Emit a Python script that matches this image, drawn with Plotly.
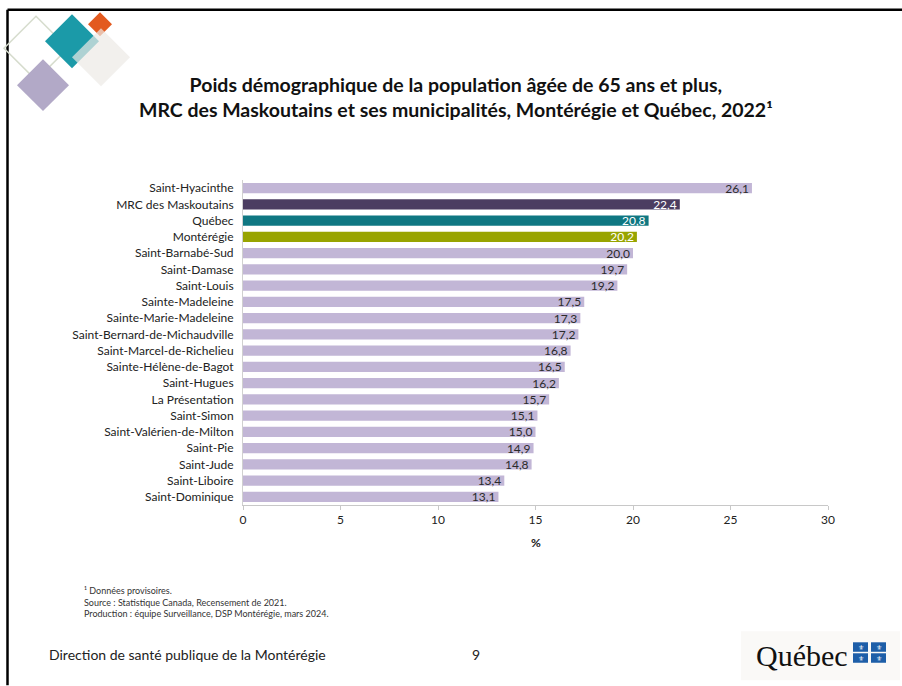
import plotly.graph_objects as go

categories = ["Saint-Hyacinthe", "MRC des Maskoutains", "Québec", "Montérégie",
              "Saint-Barnabé-Sud", "Saint-Damase", "Saint-Louis", "Sainte-Madeleine",
              "Sainte-Marie-Madeleine", "Saint-Bernard-de-Michaudville",
              "Saint-Marcel-de-Richelieu", "Sainte-Hélène-de-Bagot", "Saint-Hugues",
              "La Présentation", "Saint-Simon", "Saint-Valérien-de-Milton", "Saint-Pie",
              "Saint-Jude", "Saint-Liboire", "Saint-Dominique"]
values = [26.1, 22.4, 20.8, 20.2, 20.0, 19.7, 19.2, 17.5, 17.3, 17.2,
          16.8, 16.5, 16.2, 15.7, 15.1, 15.0, 14.9, 14.8, 13.4, 13.1]
x_ticks = [0, 5, 10, 15, 20, 25, 30]

LIGHT = "#c2b6d6"
special = {"MRC des Maskoutains": "#4b3d61", "Québec": "#0f7782", "Montérégie": "#98a400"}
bar_colors = [special.get(c, LIGHT) for c in categories]
text_colors = ["#ffffff" if c in special else "#2b2b2b" for c in categories]
labels = [f"{v:.1f}".replace(".", ",") for v in values]

FONT = "Lato, 'Open Sans', sans-serif"

fig = go.Figure()
fig.add_trace(go.Bar(
    x=values, y=categories, orientation="h",
    marker=dict(color=bar_colors, line=dict(width=0)),
    width=0.62, text=labels, textposition="inside", insidetextanchor="end",
    textfont=dict(color=text_colors, size=12, family=FONT), textangle=0,
    cliponaxis=False,
))


def px(x):
    return (x - 243) / 585


def py(y):
    return (505.5 - y) / 325.5


shapes = []
shapes.append(dict(type="line", xref="paper", yref="paper", x0=px(7.5), x1=px(902),
                   y0=py(9.5), y1=py(9.5), line=dict(color="#000", width=2.5)))
shapes.append(dict(type="line", xref="paper", yref="paper", x0=px(7.5), x1=px(7.5),
                   y0=py(686), y1=py(9.5), line=dict(color="#000", width=2.5)))


def diamond(cx, cy, h, fill, line=None, opacity=1.0):
    path = (f"M {px(cx)} {py(cy-h)} L {px(cx+h)} {py(cy)} L {px(cx)} {py(cy+h)} "
            f"L {px(cx-h)} {py(cy)} Z")
    d = dict(type="path", xref="paper", yref="paper", path=path, fillcolor=fill,
             opacity=opacity, layer="above")
    d["line"] = line if line else dict(width=0)
    return d


shapes.append(diamond(36, 48, 32, "rgba(0,0,0,0)", line=dict(color="#d6dccd", width=1.5)))
shapes.append(diamond(43, 85, 26, "#b2a9c7"))
shapes.append(diamond(72, 41, 27, "#1b9aa8"))
shapes.append(diamond(100, 24, 12, "#e35a1f"))
shapes.append(diamond(101, 57, 29, "rgba(236,233,230,0.7)"))

# light panel behind the Québec logo
shapes.append(dict(type="rect", xref="paper", yref="paper", x0=px(741), x1=px(900),
                   y0=py(681), y1=py(632), fillcolor="#faf9f7", line=dict(width=0),
                   layer="below"))

flag_cells = [(853, 643), (871, 643), (853, 654), (871, 654)]
for (sx, sy) in flag_cells:
    shapes.append(dict(type="rect", xref="paper", yref="paper",
                       x0=px(sx), x1=px(sx + 15), y0=py(sy + 9.5), y1=py(sy),
                       fillcolor="#1d5ea8", line=dict(width=0), layer="above"))

annotations = [
    dict(text="<b>Poids démographique de la population âgée de 65 ans et plus,<br>"
              "MRC des Maskoutains et ses municipalités, Montérégie et Québec, 2022¹</b>",
         xref="paper", yref="paper", x=px(456), y=py(97), xanchor="center", yanchor="middle",
         showarrow=False, font=dict(size=19.5, color="#111", family=FONT), align="center"),
    dict(text="¹ Données provisoires.<br>Source : Statistique Canada, Recensement de 2021.<br>"
              "Production : équipe Surveillance, DSP Montérégie, mars 2024.",
         xref="paper", yref="paper", x=px(82), y=py(584), xanchor="left", yanchor="top",
         showarrow=False, align="left", font=dict(size=9, color="#333", family=FONT)),
    dict(text="Direction de santé publique de la Montérégie", xref="paper", yref="paper",
         x=px(47), y=py(655), xanchor="left", yanchor="middle", showarrow=False,
         font=dict(size=14, color="#222", family="'Liberation Sans Narrow', " + FONT)),
    dict(text="9", xref="paper", yref="paper", x=px(476), y=py(655), xanchor="center",
         yanchor="middle", showarrow=False, font=dict(size=14, color="#222", family=FONT)),
    dict(text="Québec", xref="paper", yref="paper", x=px(754), y=py(656), xanchor="left",
         yanchor="middle", showarrow=False,
         font=dict(size=30, color="#111", family="'Liberation Serif', serif")),
]
for (sx, sy) in flag_cells:
    annotations.append(dict(text="⚜", xref="paper", yref="paper", x=px(sx + 7.5), y=py(sy + 5),
                            xanchor="center", yanchor="middle", showarrow=False,
                            font=dict(size=7, color="#fff")))
annotations.append(dict(text="<b>%</b>", xref="paper", yref="paper", x=px(536), y=py(543),
                        xanchor="center", yanchor="middle", showarrow=False,
                        font=dict(size=12, color="#222", family=FONT)))

fig.update_layout(
    width=902, height=686,
    margin=dict(l=243, r=74, t=180, b=180.5, pad=0),
    paper_bgcolor="#ffffff", plot_bgcolor="#ffffff",
    showlegend=False, bargap=0.38,
    uniformtext=dict(minsize=12, mode="show"),
    font=dict(family=FONT, color="#222"),
    xaxis=dict(range=[0, 30], tickvals=x_ticks, ticktext=[str(t) for t in x_ticks],
               showgrid=False, zeroline=False, showline=True, linecolor="#c8c8c8",
               linewidth=1, ticks="outside", ticklen=4, tickcolor="#c8c8c8",
               tickfont=dict(size=12, color="#222", family=FONT), fixedrange=True),
    yaxis=dict(range=[19.5, -0.5], showgrid=False, zeroline=False, showline=True,
               linecolor="#d0d0d0", linewidth=1, ticks="", ticklabelstandoff=6,
               tickfont=dict(size=12, color="#222", family=FONT), fixedrange=True),
    shapes=shapes, annotations=annotations,
)

fig.write_html("out.html", config={"displayModeBar": False},
               post_script="document.body.style.margin='0';document.body.style.overflow='hidden';")
